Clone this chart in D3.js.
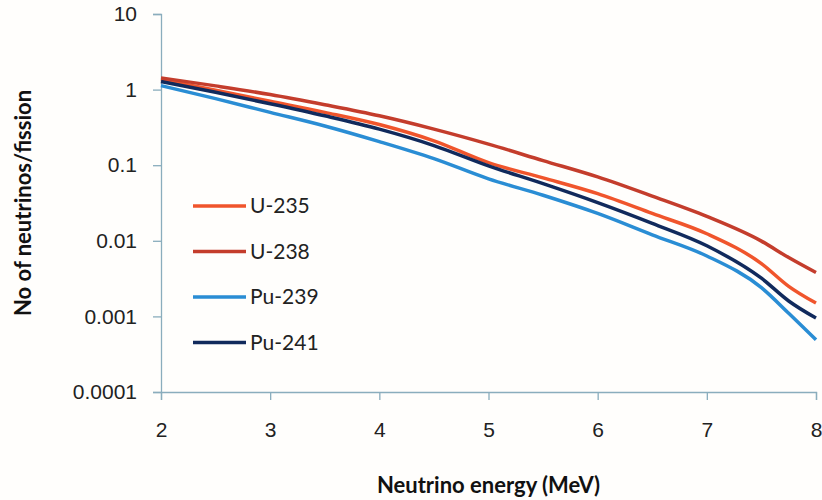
<!DOCTYPE html>
<html>
<head>
<meta charset="utf-8">
<script src="https://cdn.jsdelivr.net/npm/d3@7"></script>
<style>
  body { margin: 0; background: #fffefc; }
  svg { display: block; font-family: Lato, "Open Sans", sans-serif; }
  .axis path, .axis line { stroke: #8aadbd; stroke-width: 1.3; }
  .axis text { fill: #222; font-size: 21px; }
</style>
</head>
<body>
<svg id="draw"></svg>
<script>
// neutrino energy (MeV)
var energy = [2, 2.5, 3, 3.5, 4, 4.5, 5, 5.5, 6, 6.5, 7, 7.5, 7.75, 8];

// neutrinos per fission
var u235  = [1.36, 0.98, 0.70, 0.50, 0.345, 0.21, 0.108, 0.068, 0.042, 0.023, 0.0124, 0.005, 0.0025, 0.0015];
var u238  = [1.43, 1.12, 0.86, 0.63, 0.45, 0.30, 0.19, 0.115, 0.070, 0.039, 0.021, 0.0099, 0.006, 0.0038];
var pu239 = [1.13, 0.76, 0.50, 0.33, 0.205, 0.122, 0.066, 0.040, 0.023, 0.012, 0.0063, 0.0024, 0.0011, 0.00049];
var pu241 = [1.28, 0.92, 0.65, 0.45, 0.30, 0.182, 0.098, 0.057, 0.032, 0.017, 0.0086, 0.0032, 0.0016, 0.00095];

var seriesNames = ["U-235", "U-238", "Pu-239", "Pu-241"];
var seriesColors = ["#f0552c", "#c43d2c", "#2a8dd4", "#112a5c"];
var yTicks = [0.0001, 0.001, 0.01, 0.1, 1, 10];
var yTickLabels = ["0.0001", "0.001", "0.01", "0.1", "1", "10"];
var xTicks = [2, 3, 4, 5, 6, 7, 8];

var W = 822, H = 500;
var margin = { top: 14, right: 6, bottom: 108, left: 161 };
var width = W - margin.left - margin.right;
var height = H - margin.top - margin.bottom;

var svg = d3.select("#draw").attr("width", W).attr("height", H);
var g = svg.append("g")
  .attr("transform", "translate(" + margin.left + "," + margin.top + ")");

var xScale = d3.scaleLinear().domain([2, 8]).range([0, width]);
var yScale = d3.scaleLog().domain([0.0001, 10]).range([height, 0]);

// axes
g.append("g")
  .attr("class", "axis")
  .attr("transform", "translate(0," + height + ")")
  .call(d3.axisBottom(xScale).tickValues(xTicks).tickSizeOuter(0).tickSize(8).tickPadding(22).tickFormat(d3.format("d")));

g.append("g")
  .attr("class", "axis")
  .call(d3.axisLeft(yScale).tickValues(yTicks).tickSizeOuter(0).tickSize(8).tickPadding(16)
    .tickFormat(function(d, i) { return yTickLabels[i]; }));

// lines
var series = [u235, u238, pu239, pu241];
var line = d3.line()
  .x(function(d, i) { return xScale(energy[i]); })
  .y(function(d) { return yScale(d); })
  .curve(d3.curveMonotoneX);

g.selectAll(".line")
  .data(series)
  .enter().append("path")
  .attr("class", "line")
  .attr("fill", "none")
  .attr("stroke", function(d, i) { return seriesColors[i]; })
  .attr("stroke-width", 3.5)
  .attr("stroke-linejoin", "round")
  .attr("d", line);

// legend
var legend = svg.selectAll(".legend")
  .data(seriesNames)
  .enter().append("g")
  .attr("class", "legend")
  .attr("transform", function(d, i) { return "translate(193," + (206 + i * 45.5) + ")"; });

legend.append("line")
  .attr("x1", 0).attr("x2", 53)
  .attr("stroke", function(d, i) { return seriesColors[i]; })
  .attr("stroke-width", 3.5);

legend.append("text")
  .attr("x", 57)
  .attr("dy", "0.35em")
  .attr("font-size", 21)
  .attr("fill", "#222")
  .text(function(d) { return d; });

// axis titles
svg.append("text")
  .attr("x", margin.left + width / 2)
  .attr("y", 493)
  .attr("text-anchor", "middle")
  .attr("font-size", 22)
  .attr("font-weight", "bold")
  .attr("fill", "#111")
  .text("Neutrino energy (MeV)");

svg.append("text")
  .attr("transform", "translate(31,203) rotate(-90)")
  .attr("text-anchor", "middle")
  .attr("font-size", 22)
  .attr("font-weight", "bold")
  .attr("fill", "#111")
  .text("No of neutrinos/fission");
</script>
</body>
</html>
